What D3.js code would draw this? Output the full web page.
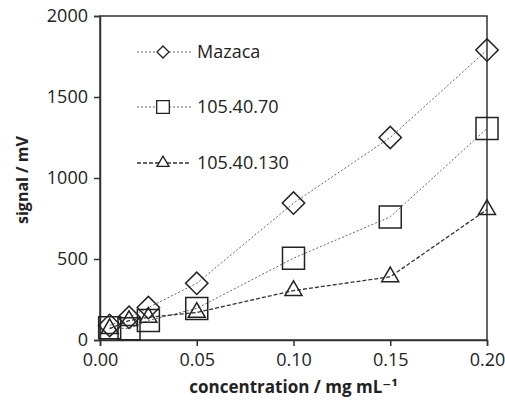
<!DOCTYPE html>
<html>
<head>
<meta charset="utf-8">
<script src="https://cdn.jsdelivr.net/npm/d3@7"></script>
<style>
  body { margin: 0; background: #fff; }
  text { font-family: "Open Sans", "DejaVu Sans", sans-serif; fill: #222; }
</style>
</head>
<body>
<div id="chart"></div>
<script>
// concentration (mg/mL)
var conc = [0.005, 0.015, 0.025, 0.05, 0.10, 0.15, 0.20];
var mazaca = [90, 140, 200, 350, 845, 1250, 1790];
var s7070 = [75, 70, 120, 195, 505, 760, 1305];
var s130 = [70, 120, 140, 170, 305, 390, 805];
var seriesNames = ["Mazaca", "105.40.70", "105.40.130"];
var xTicks = [0, 0.05, 0.10, 0.15, 0.20];
var yTicks = [0, 500, 1000, 1500, 2000];

var width = 505, height = 401;
var margin = { top: 16, right: 18, bottom: 61, left: 100 };
var w = width - margin.left - margin.right,
  h = height - margin.top - margin.bottom;

var svg = d3.select("#chart").append("svg")
  .attr("width", width).attr("height", height);

var g = svg.append("g")
  .attr("transform", "translate(" + margin.left + "," + margin.top + ")");

var x = d3.scaleLinear().domain([0, 0.2]).range([0, w]);
var y = d3.scaleLinear().domain([0, 2000]).range([h, 0]);

// frame
g.append("rect").attr("x", 0).attr("y", 0).attr("width", w).attr("height", h)
  .attr("fill", "none").attr("stroke", "#333").attr("stroke-width", 1.5);

var gx = g.append("g").attr("transform", "translate(0," + h + ")")
  .call(d3.axisBottom(x).tickValues(xTicks).tickFormat(d3.format(".2f")).tickSize(6).tickPadding(7));
var gy = g.append("g")
  .call(d3.axisLeft(y).tickValues(yTicks).tickFormat(d3.format("d")).tickSize(6).tickPadding(6));
[gx, gy].forEach(function (a) {
  a.select(".domain").attr("stroke", "#333").attr("stroke-width", 1.5);
  a.selectAll(".tick line").attr("stroke", "#333").attr("stroke-width", 1.5);
  a.selectAll(".tick text").style("font-size", "18px").attr("fill", "#222");
});

var data = [
  { name: seriesNames[0], vals: mazaca, dash: "2,2", sw: 1, col: "#666", shape: "diamond" },
  { name: seriesNames[1], vals: s7070, dash: "2,2", sw: 1, col: "#666", shape: "square" },
  { name: seriesNames[2], vals: s130, dash: "4,2", sw: 1.3, col: "#333", shape: "triangle" }
];

function symPath(shape, big) {
  if (shape == "diamond") return d3.symbol().type(d3.symbolSquare).size(big ? 250 : 72)();
  if (shape == "square") return d3.symbol().type(d3.symbolSquare).size(big ? 484 : 160)();
  return d3.symbol().type(d3.symbolTriangle).size(big ? 125 : 62)();
}

var line = d3.line()
  .x(function (d, i) { return x(conc[i]); })
  .y(function (d) { return y(d); });

data.forEach(function (s) {
  g.append("path").datum(s.vals)
    .attr("d", line)
    .attr("fill", "none")
    .attr("stroke", s.col)
    .attr("stroke-width", s.sw)
    .attr("stroke-dasharray", s.dash);
});

data.forEach(function (s) {
  g.selectAll(null).data(s.vals).enter().append("path")
    .attr("d", symPath(s.shape, true))
    .attr("transform", function (d, i) {
      return "translate(" + x(conc[i]) + "," + y(d) + ")" + (s.shape == "diamond" ? " rotate(45)" : "");
    })
    .attr("fill", "none")
    .attr("stroke", "#222")
    .attr("stroke-width", 1.5);
});

// legend
var legY = [52, 107, 163];
data.forEach(function (s, i) {
  var lg = svg.append("g").attr("transform", "translate(137," + legY[i] + ")");
  lg.append("line").attr("x1", 0).attr("x2", 54).attr("y1", 0).attr("y2", 0)
    .attr("stroke", s.col).attr("stroke-width", s.sw).attr("stroke-dasharray", s.dash);
  lg.append("path").attr("d", symPath(s.shape, false))
    .attr("transform", "translate(26,0)" + (s.shape == "diamond" ? " rotate(45)" : ""))
    .attr("fill", "#fff").attr("stroke", "#222").attr("stroke-width", 1.3);
  lg.append("text").attr("x", 60).attr("y", 0).attr("dy", "0.35em")
    .style("font-size", "18px").text(s.name);
});

// axis titles
svg.append("text")
  .attr("x", margin.left + w / 2).attr("y", 393)
  .attr("text-anchor", "middle")
  .style("font-size", "17px").style("font-weight", "bold")
  .text("concentration / mg mL\u207B\u00B9");

svg.append("text")
  .attr("transform", "translate(28,180) rotate(-90)")
  .attr("text-anchor", "middle")
  .style("font-size", "16px").style("font-weight", "bold")
  .text("signal / mV");
</script>
</body>
</html>
